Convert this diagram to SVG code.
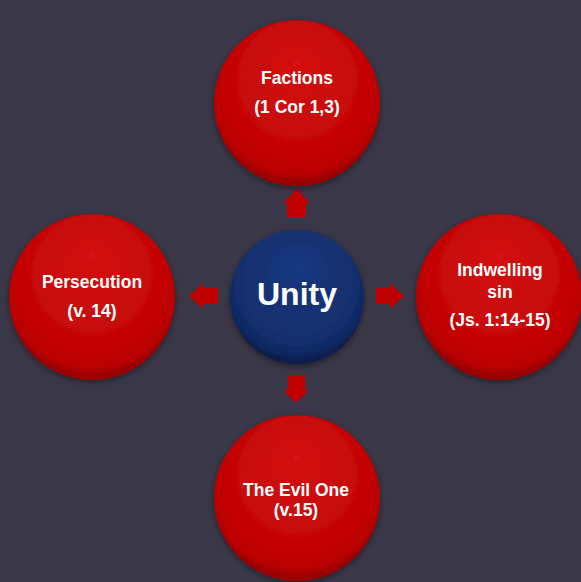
<svg xmlns="http://www.w3.org/2000/svg" width="581" height="582" viewBox="0 0 581 582">
  <defs>
    <radialGradient id="redBall" cx="50%" cy="42%" r="55%" fx="50%" fy="25%">
      <stop offset="0" stop-color="#d41212"/>
      <stop offset="0.8" stop-color="#c30404"/>
      <stop offset="0.95" stop-color="#b80000"/>
      <stop offset="1" stop-color="#9a0000"/>
    </radialGradient>
    <radialGradient id="blueBall" cx="50%" cy="42%" r="55%" fx="50%" fy="25%">
      <stop offset="0" stop-color="#193880"/>
      <stop offset="0.8" stop-color="#132f6e"/>
      <stop offset="0.95" stop-color="#0f2862"/>
      <stop offset="1" stop-color="#0b1e4c"/>
    </radialGradient>
    <filter id="shadow" x="-20%" y="-20%" width="140%" height="140%">
      <feGaussianBlur in="SourceAlpha" stdDeviation="3"/>
      <feOffset dx="0" dy="2" result="b"/>
      <feComponentTransfer><feFuncA type="linear" slope="0.45"/></feComponentTransfer>
      <feMerge><feMergeNode/><feMergeNode in="SourceGraphic"/></feMerge>
    </filter>
  </defs>
  <style>
    .lbl { font-family: "Liberation Sans", Arial, sans-serif; font-weight: bold; font-size: 17.5px; fill: #ffffff; text-anchor: middle; }
    .big { font-family: "Liberation Sans", Arial, sans-serif; font-weight: bold; font-size: 32px; fill: #ffffff; text-anchor: middle; }
    .arrow { fill: #c00000; }
  </style>
  <rect width="581" height="582" fill="#3a3848"/>

  <g id="connectors">
    <polygon class="arrow" points="297,189 310,203 306,203 306,217 287,217 287,203 283,203"/>
    <polygon class="arrow" points="189,296 203,283 203,288 218,288 218,304 203,304 203,309"/>
    <polygon class="arrow" points="404,296 390,283 390,288 376,288 376,304 390,304 390,309"/>
    <polygon class="arrow" points="296,403 309,390 305,390 305,375 288,375 288,390 283,390"/>
  </g>

  <g id="factions">
    <circle cx="297" cy="103" r="83" fill="url(#redBall)" filter="url(#shadow)"/>
    <text class="lbl" x="297" y="84">Factions</text>
    <text class="lbl" x="297" y="113">(1 Cor 1,3)</text>
  </g>

  <g id="persecution">
    <circle cx="92" cy="297" r="83" fill="url(#redBall)" filter="url(#shadow)"/>
    <text class="lbl" x="92" y="288">Persecution</text>
    <text class="lbl" x="92" y="317">(v. 14)</text>
  </g>

  <g id="indwelling">
    <circle cx="499" cy="297" r="83" fill="url(#redBall)" filter="url(#shadow)"/>
    <text class="lbl" x="500" y="276">Indwelling</text>
    <text class="lbl" x="500" y="298">sin</text>
    <text class="lbl" x="500" y="326">(Js. 1:14-15)</text>
  </g>

  <g id="evil-one">
    <circle cx="297" cy="498" r="83" fill="url(#redBall)" filter="url(#shadow)"/>
    <text class="lbl" x="296" y="496">The Evil One</text>
    <text class="lbl" x="296" y="516">(v.15)</text>
  </g>

  <g id="unity">
    <circle cx="297" cy="297" r="67" fill="url(#blueBall)" filter="url(#shadow)"/>
    <text class="big" x="297" y="305">Unity</text>
  </g>
</svg>
